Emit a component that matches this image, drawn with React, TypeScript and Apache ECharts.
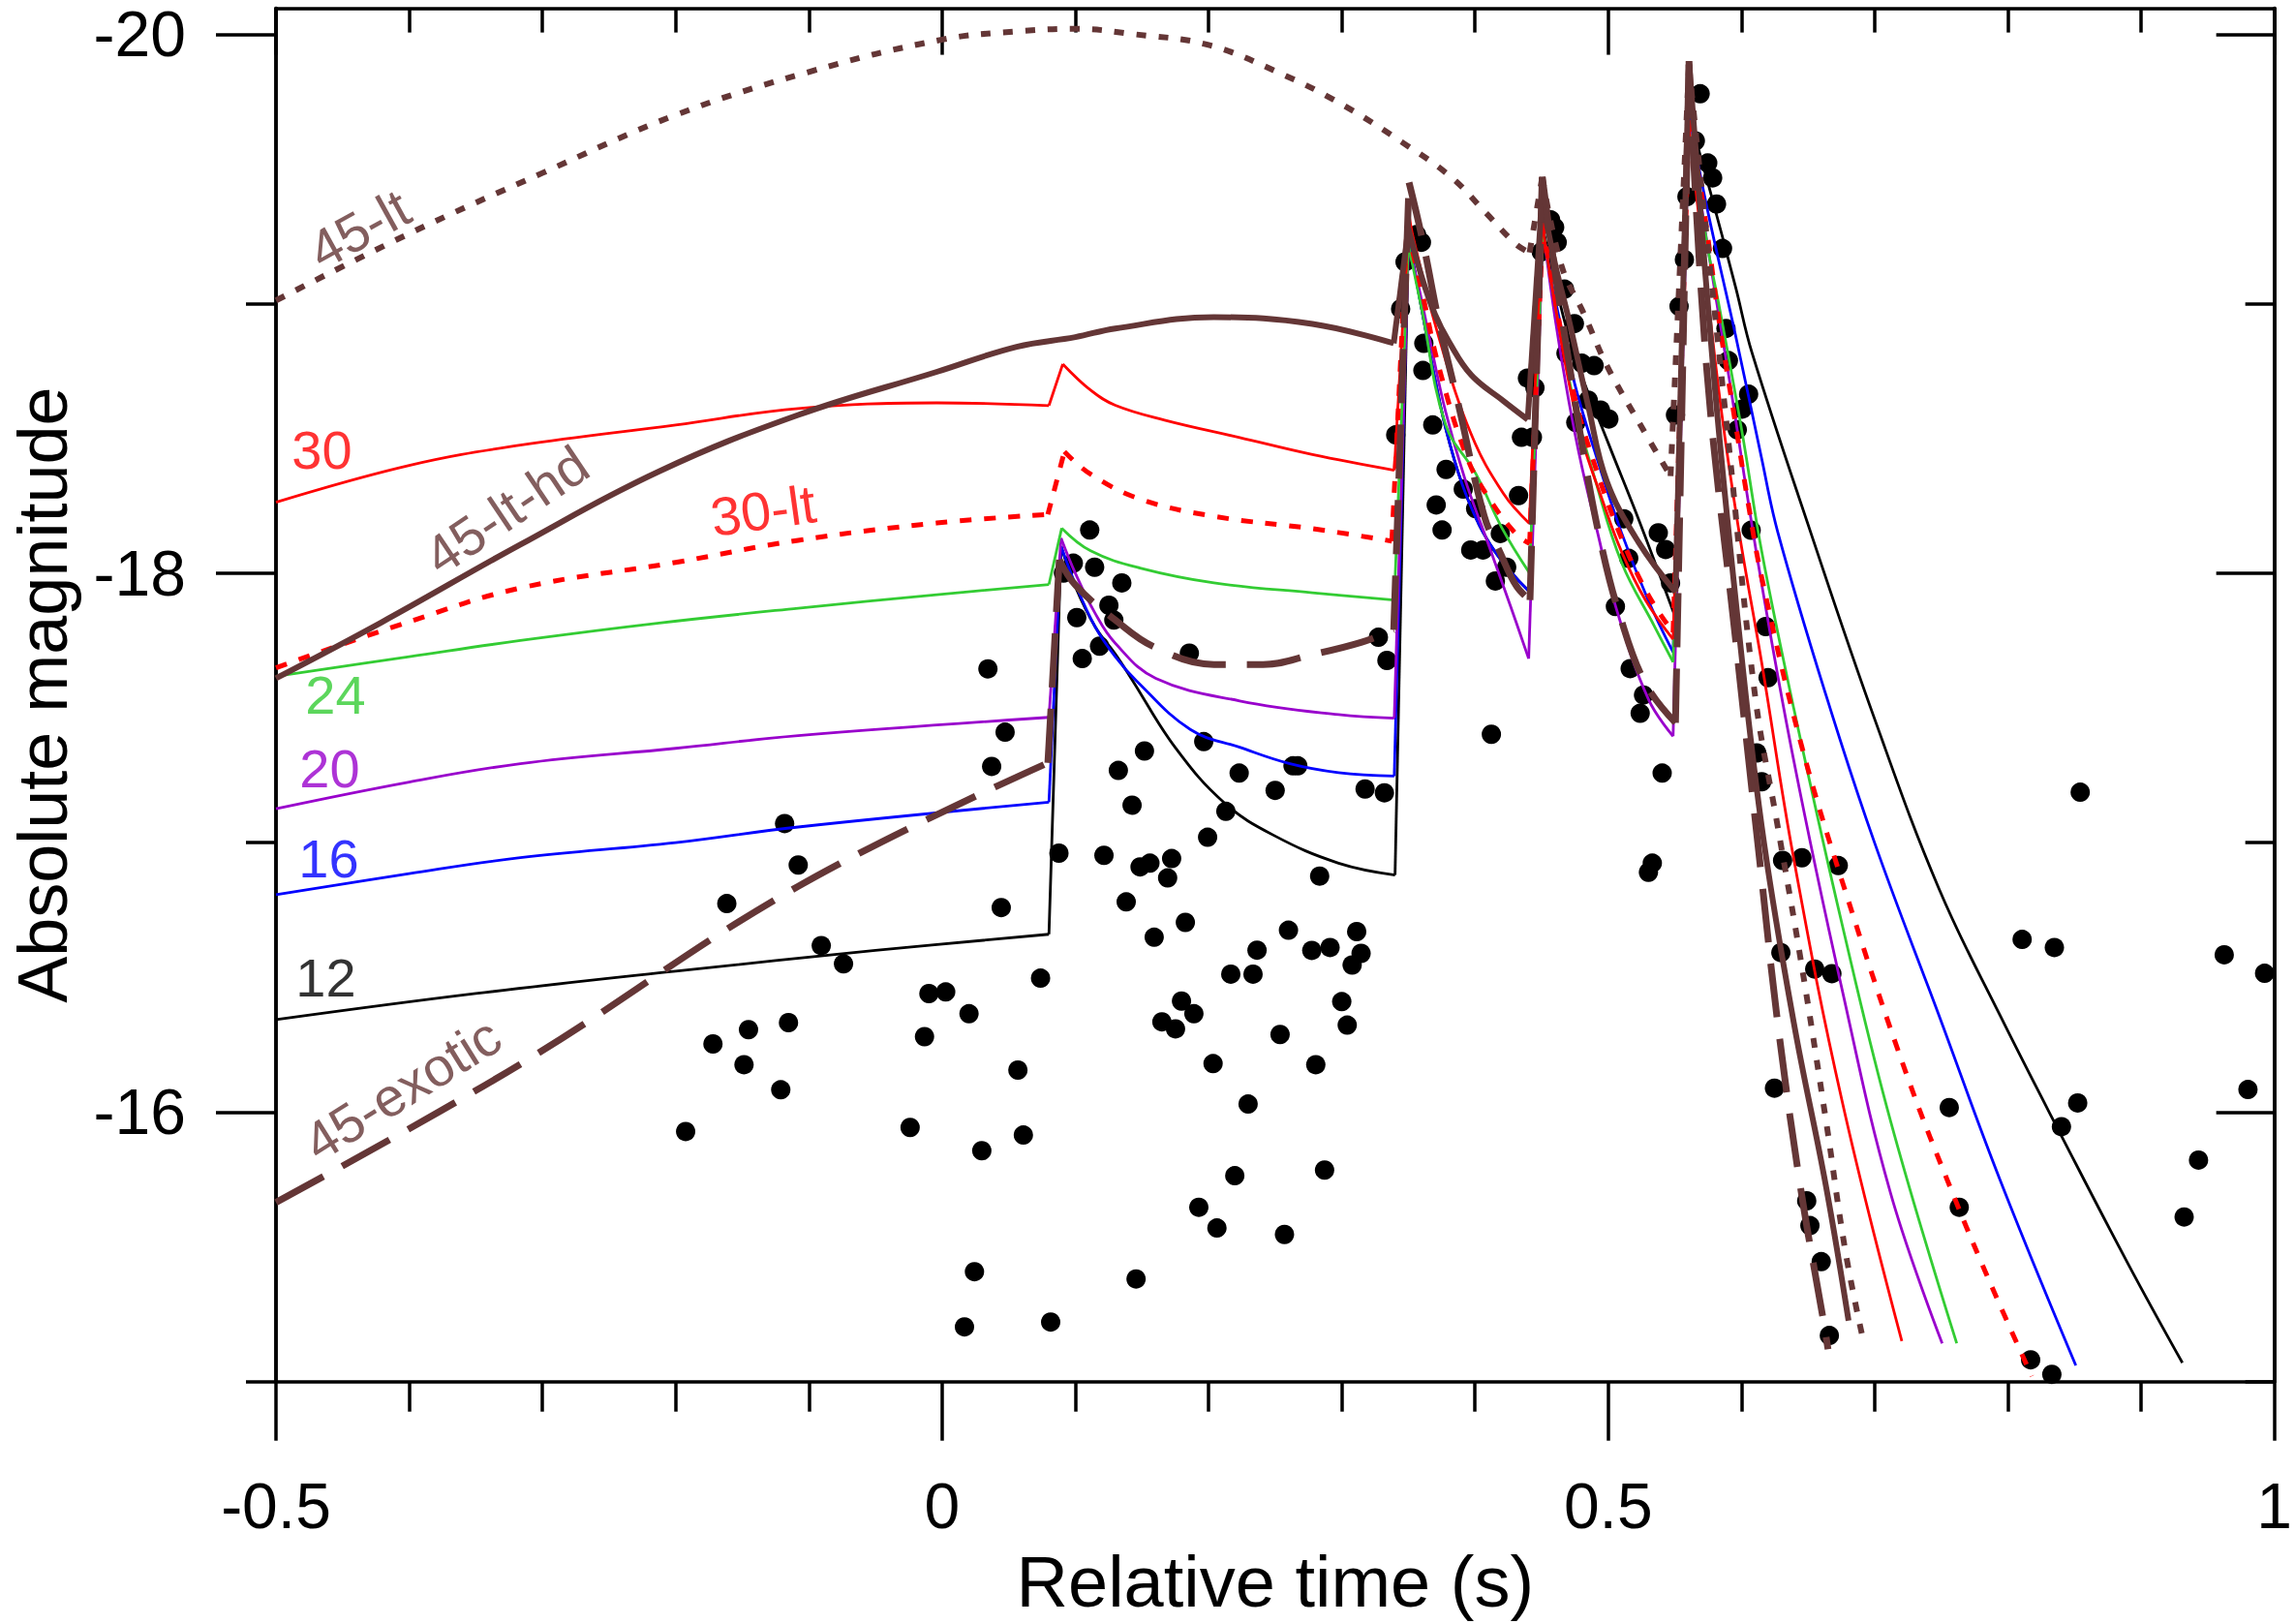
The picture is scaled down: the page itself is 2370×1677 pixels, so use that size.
import React, { useEffect, useRef } from "react";
import * as echarts from "echarts";

const FONT = "'Liberation Sans', Arial, Helvetica, sans-serif";
const BROWN = "#643636";
const RED = "#ff0000";
const GREEN = "#33cc33";
const PURPLE = "#9900cc";
const BLUE = "#0000ff";
const BLACK = "#000000";

// y axis top edge sits a little above -20
const Y_TOP = -20.096;
const Y_BOTTOM = -15;
const yMajor = [-20, -18, -16];
const yMinor = [-19, -17, -15];

// model light curves: [relative time (s), absolute magnitude]
const m12 = [
  [-0.5, -16.343], [-0.35, -16.44], [-0.2, -16.523], [-0.05, -16.6], [0.0802, -16.66],
  [0.0893, -18.1], [0.1, -17.95], [0.115, -17.8], [0.13, -17.7], [0.1419, -17.61], [0.175, -17.353],
  [0.212, -17.147], [0.249, -17.027], [0.2976, -16.924], [0.34, -16.88],
  [0.35, -19.25], [0.36, -18.98], [0.37, -18.72], [0.38, -18.5], [0.395, -18.27], [0.415, -18.08], [0.441, -17.93],
  [0.4503, -19.3], [0.46, -19.08], [0.4746, -18.81], [0.5005, -18.477], [0.5228, -18.2], [0.5505, -17.835],
  [0.5606, -19.7], [0.5764, -19.42], [0.5957, -19.06], [0.6078, -18.82], [0.6514, -18.16], [0.6999, -17.46],
  [0.7482, -16.83], [0.794, -16.36], [0.8425, -15.89], [0.891, -15.43], [0.931, -15.07],
];

const m16 = [
  [-0.5, -16.807], [-0.4, -16.885], [-0.3166, -16.944], [-0.2, -17.0], [-0.108, -17.058], [0.0802, -17.15],
  [0.0893, -18.1], [0.1, -17.96], [0.115, -17.8], [0.13, -17.69], [0.146, -17.6], [0.1863, -17.42],
  [0.2234, -17.354], [0.2604, -17.294], [0.2976, -17.26], [0.3394, -17.247],
  [0.35, -19.25], [0.36, -18.98], [0.37, -18.72], [0.38, -18.5], [0.395, -18.27], [0.415, -18.08], [0.441, -17.93],
  [0.4503, -19.3], [0.46, -19.02], [0.475, -18.7], [0.49, -18.45], [0.51, -18.15], [0.53, -17.9], [0.5487, -17.707],
  [0.5606, -19.7], [0.574, -19.36], [0.5957, -18.88], [0.615, -18.43], [0.6272, -18.154], [0.6635, -17.547],
  [0.6999, -17.0], [0.7482, -16.36], [0.794, -15.75], [0.851, -15.06],
];

const m20 = [
  [-0.5, -17.126], [-0.4, -17.225], [-0.3166, -17.293], [-0.2, -17.35], [-0.108, -17.397], [0.0802, -17.465],
  [0.0893, -18.13], [0.1, -18.0], [0.115, -17.85], [0.13, -17.74], [0.1604, -17.61], [0.2234, -17.526],
  [0.2976, -17.475], [0.3394, -17.462],
  [0.35, -19.2], [0.356, -19.1], [0.3658, -18.873], [0.3779, -18.6], [0.3924, -18.35], [0.4094, -18.116],
  [0.4263, -17.883], [0.4403, -17.683],
  [0.451, -19.28], [0.46, -18.95], [0.47, -18.65], [0.48, -18.4], [0.4917, -18.157], [0.506, -17.87],
  [0.5304, -17.53], [0.5487, -17.395],
  [0.5606, -19.68], [0.575, -19.2], [0.5909, -18.72], [0.6127, -18.033], [0.6393, -17.304], [0.6756, -16.454],
  [0.7119, -15.7], [0.7507, -15.142],
];

const m24 = [
  [-0.5, -17.617], [-0.4, -17.69], [-0.3166, -17.75], [-0.2124, -17.815], [-0.108, -17.87], [-0.004, -17.92], [0.0802, -17.958],
  [0.0898, -18.167], [0.1115, -18.083], [0.1486, -18.019], [0.204, -17.964], [0.278, -17.927], [0.3394, -17.9],
  [0.35, -19.22], [0.36, -18.98], [0.378, -18.55], [0.4005, -18.37], [0.42, -18.17], [0.441, -18.0],
  [0.451, -19.28], [0.46, -19.0], [0.475, -18.62], [0.49, -18.35], [0.51, -18.04], [0.535, -17.8], [0.5487, -17.67],
  [0.5606, -19.65], [0.575, -19.2], [0.5837, -18.98], [0.6006, -18.52], [0.6152, -18.081], [0.6393, -17.498],
  [0.6756, -16.696], [0.7119, -15.968], [0.7616, -15.142],
];

const m30 = [
  [-0.5, -18.263], [-0.4, -18.4], [-0.3166, -18.475], [-0.2, -18.55], [-0.108, -18.611], [-0.004, -18.632], [0.0802, -18.622],
  [0.0906, -18.776], [0.1115, -18.679], [0.13, -18.623], [0.167, -18.568], [0.2227, -18.504], [0.278, -18.44], [0.3394, -18.382],
  [0.3505, -19.33], [0.3537, -19.244], [0.373, -18.873], [0.3972, -18.515], [0.4214, -18.295], [0.4408, -18.185],
  [0.4503, -19.3], [0.46, -19.0], [0.47, -18.72], [0.48, -18.5], [0.495, -18.28], [0.51, -18.08], [0.528, -17.9],
  [0.5487, -17.755],
  [0.5606, -19.65], [0.572, -19.15], [0.585, -18.6], [0.5982, -18.154], [0.6152, -17.668], [0.6393, -16.939],
  [0.6756, -16.04], [0.7204, -15.15],
];

const m30lt = [
  [-0.5, -17.649], [-0.4, -17.82], [-0.3166, -17.945], [-0.2, -18.04], [-0.108, -18.122], [-0.004, -18.186], [0.0794, -18.218],
  [0.0918, -18.451], [0.1115, -18.367], [0.1486, -18.275], [0.204, -18.211], [0.278, -18.165], [0.3376, -18.119],
  [0.349, -19.28], [0.36, -19.05], [0.373, -18.763], [0.3948, -18.42], [0.4118, -18.268], [0.4311, -18.144], [0.441, -18.11],
  [0.451, -19.3], [0.46, -19.02], [0.475, -18.65], [0.49, -18.4], [0.51, -18.13], [0.53, -17.92], [0.5487, -17.78],
  [0.5606, -19.68], [0.5715, -19.36], [0.5837, -18.92], [0.5957, -18.55], [0.6054, -18.25], [0.6152, -17.984],
  [0.6442, -17.377], [0.6781, -16.818], [0.7241, -16.138], [0.7604, -15.676], [0.7894, -15.336], [0.818, -15.02],
];

const m45lt = [
  [-0.5, -19.012], [-0.4, -19.26], [-0.3, -19.485], [-0.2, -19.7], [-0.1, -19.86], [0, -19.98], [0.056, -20.01],
  [0.1, -20.02], [0.144, -20.0], [0.2, -19.96], [0.256, -19.85], [0.3, -19.74], [0.345, -19.6], [0.382, -19.47],
  [0.408, -19.338], [0.431, -19.22], [0.441, -19.19],
  [0.4505, -19.47], [0.465, -19.14], [0.482, -18.96], [0.499, -18.77], [0.523, -18.56], [0.5468, -18.36],
  [0.5606, -19.88], [0.575, -19.2], [0.59, -18.5], [0.6102, -17.547], [0.6272, -17.061], [0.6442, -16.575],
  [0.6635, -15.968], [0.6781, -15.482], [0.6914, -15.154],
];

const m45lthd = [
  [-0.5, -17.61], [-0.421, -17.817], [-0.3166, -18.106], [-0.2124, -18.378], [-0.108, -18.587], [-0.004, -18.747],
  [0.056, -18.84], [0.1, -18.876], [0.13, -18.908], [0.204, -18.95], [0.278, -18.925], [0.339, -18.853],
  [0.35, -19.28], [0.36, -19.1], [0.37, -18.96], [0.3803, -18.86], [0.3972, -18.735], [0.4214, -18.639], [0.4396, -18.57],
  [0.4503, -19.39], [0.46, -19.15], [0.47, -18.95], [0.485, -18.62], [0.499, -18.34], [0.523, -18.113], [0.5505, -17.93],
  [0.5606, -19.9], [0.5788, -18.76], [0.5957, -17.9], [0.6152, -17.061], [0.6393, -16.332], [0.6635, -15.724], [0.6804, -15.226],
];

const m45exotic = [
  [-0.5, -15.665], [-0.3166, -16.178], [-0.108, -16.838], [0.0794, -17.296],
  [0.088, -18.05], [0.1004, -17.954], [0.13, -17.826], [0.1597, -17.725], [0.204, -17.661], [0.241, -17.661],
  [0.278, -17.698], [0.315, -17.744], [0.339, -17.79],
  [0.3505, -19.45], [0.3609, -19.23], [0.373, -18.93], [0.3876, -18.625], [0.4069, -18.213], [0.419, -18.075],
  [0.4311, -17.952], [0.4413, -17.9],
  [0.4505, -19.47], [0.46, -19.12], [0.47, -18.8], [0.482, -18.43], [0.495, -18.1], [0.5086, -17.845],
  [0.528, -17.59], [0.5505, -17.445],
  [0.5606, -19.9], [0.5739, -18.761], [0.5957, -17.75], [0.6152, -16.866], [0.6272, -16.332], [0.6442, -15.725],
  [0.6611, -15.239], [0.665, -15.12],
];

// observed points
const dotsEarly = [
  [0.0344, -17.645], [0.0473, -17.41], [0.0372, -17.283], [-0.1182, -17.071], [-0.108, -16.917], [-0.1616, -16.774],
  [0.0444, -16.759], [-0.0907, -16.618], [-0.074, -16.55], [0.0739, -16.497], [-0.0099, -16.44], [0.0027, -16.446],
  [0.0202, -16.365], [-0.1153, -16.332], [-0.1453, -16.306], [-0.172, -16.253], [-0.0132, -16.28], [-0.1487, -16.176],
  [0.0569, -16.156], [-0.1211, -16.083], [-0.1925, -15.928], [-0.024, -15.943], [0.061, -15.915], [0.0298, -15.857],
  [0.0243, -15.408], [0.0168, -15.203], [0.0815, -15.221], [0.0877, -16.961], [0.1215, -16.953],
];

const dotsBump = [
  [0.1108, -18.16], [0.0911, -18.0], [0.0985, -18.037], [0.1145, -18.022], [0.1349, -17.964], [0.1011, -17.835],
  [0.1252, -17.881], [0.1289, -17.826], [0.1182, -17.729], [0.1052, -17.683], [0.1856, -17.703], [0.3275, -17.762],
  [0.3339, -17.676], [0.1519, -17.34], [0.1323, -17.268], [0.1426, -17.139], [0.1486, -16.91], [0.156, -16.924],
  [0.1723, -16.941], [0.1693, -16.869], [0.1382, -16.78], [0.1964, -17.375], [0.223, -17.258], [0.1993, -17.02],
  [0.213, -17.116], [0.25, -17.194], [0.2634, -17.285], [0.267, -17.285], [0.3175, -17.199], [0.332, -17.185],
  [0.2834, -16.876], [0.1826, -16.704], [0.1592, -16.649], [0.2364, -16.601], [0.26, -16.675], [0.3112, -16.67],
  [0.2775, -16.6], [0.2912, -16.611], [0.3145, -16.589], [0.3078, -16.546], [0.2167, -16.512], [0.2334, -16.512],
  [0.1797, -16.412], [0.189, -16.365], [0.165, -16.335], [0.1752, -16.309], [0.3, -16.41], [0.3041, -16.323],
  [0.2537, -16.288], [0.2034, -16.18], [0.2805, -16.176], [0.2297, -16.03], [0.2197, -15.764], [0.2871, -15.785],
  [0.1927, -15.647], [0.2063, -15.57], [0.257, -15.546], [0.1456, -15.381],
];

const dotsSpikes = [
  [0.3561, -19.256], [0.3475, -19.155], [0.3598, -19.228], [0.3442, -18.981], [0.3616, -18.853], [0.3609, -18.752],
  [0.3405, -18.513], [0.3683, -18.55], [0.3783, -18.385], [0.3912, -18.312], [0.3709, -18.253], [0.3753, -18.16],
  [0.4005, -18.239], [0.3968, -18.086], [0.406, -18.086], [0.419, -18.147], [0.4238, -18.022], [0.4153, -17.971],
  [0.4327, -18.288], [0.4349, -18.504], [0.4394, -18.724], [0.445, -18.688], [0.4431, -18.504], [0.4123, -17.402],
  [0.4568, -19.311], [0.4598, -19.283], [0.4617, -19.228], [0.4498, -19.192], [0.4672, -19.054], [0.4746, -18.926],
  [0.4683, -18.816], [0.4802, -18.779], [0.4894, -18.77], [0.485, -18.642], [0.4942, -18.605], [0.5005, -18.572],
  [0.4757, -18.559], [0.5117, -18.202], [0.5054, -17.876], [0.5154, -18.055], [0.5376, -18.15], [0.5431, -18.088],
  [0.5468, -17.964], [0.5165, -17.646], [0.5265, -17.548], [0.524, -17.48], [0.5405, -17.258], [0.5331, -16.924],
  [0.5302, -16.89],
  [0.569, -19.779], [0.5654, -19.604], [0.5747, -19.522], [0.5784, -19.467], [0.5591, -19.397], [0.5813, -19.37],
  [0.5858, -19.205], [0.5572, -19.164], [0.5532, -18.99], [0.5884, -18.908], [0.5902, -18.789], [0.6054, -18.664],
  [0.6006, -18.609], [0.5505, -18.587], [0.5969, -18.532],
];

const dotsTail = [
  [0.6073, -18.159], [0.6182, -17.802], [0.62, -17.612], [0.6115, -17.333], [0.6152, -17.226], [0.6309, -16.934],
  [0.6454, -16.944], [0.6727, -16.915], [0.6296, -16.592], [0.655, -16.531], [0.6679, -16.514], [0.6248, -16.089],
  [0.756, -16.017], [0.649, -15.671], [0.6514, -15.579], [0.6599, -15.445], [0.666, -15.171], [0.7635, -15.647],
  [0.8543, -17.187], [0.8107, -16.641], [0.8349, -16.611], [0.9624, -16.584], [0.9927, -16.515], [0.8524, -16.034],
  [0.8402, -15.946], [0.9802, -16.084], [0.9431, -15.822], [0.9323, -15.611], [0.8171, -15.081], [0.833, -15.027],
];

// curve annotations: text, anchor in data units, rotation (deg, anticlockwise), colour
const annotations = [
  { text: "45-lt", t: -0.4375, m: -19.277, rot: 29, color: BROWN },
  { text: "30", t: -0.4655, m: -18.456, rot: 0, color: RED },
  { text: "45-lt-hd", t: -0.327, m: -18.234, rot: 34, color: BROWN },
  { text: "30-lt", t: -0.1343, m: -18.233, rot: 8, color: RED },
  { text: "24", t: -0.4553, m: -17.547, rot: 0, color: GREEN },
  { text: "20", t: -0.4597, m: -17.274, rot: 0, color: PURPLE },
  { text: "16", t: -0.4604, m: -16.943, rot: 0, color: BLUE },
  { text: "12", t: -0.4626, m: -16.499, rot: 0, color: BLACK },
  { text: "45-exotic", t: -0.4052, m: -16.086, rot: 32, color: BROWN },
];

const frame = { color: "#000", width: 3.5 };

// split a curve at its sudden brightenings: the rises stay straight, the decays are smoothed
function curveSeries(name: string, data: number[][], color: string, width: number, type: any = "solid") {
  const pieces: { pts: number[][]; smooth: number }[] = [];
  let cur = [data[0]];
  for (let i = 1; i < data.length; i++) {
    const [t0, m0] = data[i - 1];
    const [t1, m1] = data[i];
    if ((m1 - m0) / (t1 - t0) < -8) {
      pieces.push({ pts: cur, smooth: 0.4 });
      pieces.push({ pts: [data[i - 1], data[i]], smooth: 0 });
      cur = [data[i]];
    } else {
      cur.push(data[i]);
    }
  }
  pieces.push({ pts: cur, smooth: 0.4 });
  return pieces.map((p) => ({
    name,
    type: "line",
    data: p.pts,
    smooth: p.smooth,
    showSymbol: false,
    symbol: "none",
    silent: true,
    z: 3,
    lineStyle: { color, width, type, cap: "butt", join: "round" },
  }));
}

function yAxisDef(position: string, ticks: number[], length: number, inside: boolean, withLabels: boolean) {
  return {
    type: "value",
    position,
    inverse: true,
    min: Y_TOP,
    max: Y_BOTTOM,
    axisLine: { show: true, onZero: false, lineStyle: frame },
    axisTick: { show: true, inside, length, customValues: ticks, lineStyle: frame },
    axisLabel: withLabels
      ? { show: true, customValues: ticks, fontSize: 66, lineHeight: 50, fontFamily: FONT, color: "#000", margin: 93 }
      : { show: false },
    splitLine: { show: false },
    ...(withLabels
      ? {
          name: "Absolute magnitude",
          nameLocation: "middle",
          nameGap: 205,
          nameRotate: 90,
          nameTextStyle: { fontSize: 72, fontFamily: FONT, color: "#000" },
        }
      : {}),
  };
}

export default function App() {
  const ref = useRef<HTMLDivElement>(null);

  useEffect(() => {
    if (!ref.current) return;
    const chart = echarts.init(ref.current, null, { renderer: "svg" });

    const dots = [...dotsEarly, ...dotsBump, ...dotsSpikes, ...dotsTail];

    chart.setOption({
      animation: false,
      backgroundColor: "#fff",
      grid: { left: 284.5, right: 20, top: 8.6, bottom: 250.3, containLabel: false },
      xAxis: [
        {
          type: "value",
          position: "bottom",
          min: -0.5,
          max: 1,
          interval: 0.5,
          axisLine: { show: true, onZero: false, lineStyle: frame },
          axisTick: { show: true, inside: false, length: 61, lineStyle: frame },
          minorTick: { show: true, splitNumber: 5, length: 31, lineStyle: frame },
          splitLine: { show: false },
          minorSplitLine: { show: false },
          axisLabel: { fontSize: 66, lineHeight: 66, fontFamily: FONT, color: "#000", margin: 95 },
          name: "Relative time (s)",
          nameLocation: "middle",
          nameGap: 170,
          nameTextStyle: { fontSize: 74, fontFamily: FONT, color: "#000" },
        },
        {
          type: "value",
          position: "top",
          min: -0.5,
          max: 1,
          interval: 0.5,
          axisLine: { show: true, onZero: false, lineStyle: frame },
          axisTick: { show: true, inside: true, length: 48, lineStyle: frame },
          minorTick: { show: true, splitNumber: 5, length: 25, lineStyle: frame },
          splitLine: { show: false },
          axisLabel: { show: false },
        },
      ],
      yAxis: [
        yAxisDef("left", yMajor, 62, false, true),
        yAxisDef("left", yMinor, 31, false, false),
        yAxisDef("right", yMajor, 60, true, false),
        yAxisDef("right", yMinor, 30, true, false),
      ],
      series: [
        {
          name: "observed",
          type: "scatter",
          data: dots,
          symbol: "circle",
          symbolSize: 20,
          itemStyle: { color: "#000", opacity: 1 },
          silent: true,
          z: 2,
        },
        ...curveSeries("12", m12, BLACK, 2.8),
        ...curveSeries("16", m16, BLUE, 2.8),
        ...curveSeries("20", m20, PURPLE, 2.8),
        ...curveSeries("24", m24, GREEN, 2.8),
        ...curveSeries("30", m30, RED, 2.8),
        ...curveSeries("30-lt", m30lt, RED, 5, [12, 13]),
        ...curveSeries("45-lt", m45lt, BROWN, 6, [10, 13]),
        ...curveSeries("45-lt-hd", m45lthd, BROWN, 6),
        ...curveSeries("45-exotic", m45exotic, BROWN, 7, [56, 22]),
        {
          name: "labels",
          type: "scatter",
          symbolSize: 1,
          silent: true,
          z: 5,
          itemStyle: { color: "rgba(0,0,0,0)" },
          label: {
            show: true,
            position: "inside",
            formatter: "{b}",
            fontSize: 56,
            fontFamily: FONT,
            align: "center",
            verticalAlign: "middle",
          },
          data: annotations.map((a) => ({
            name: a.text,
            value: [a.t, a.m],
            label: { rotate: a.rot, color: a.color },
          })),
        },
      ],
    });

    return () => chart.dispose();
  }, []);

  return (
    <div
      ref={ref}
      style={{ position: "absolute", left: 0, top: 0, width: 2370, height: 1677, background: "#fff" }}
    />
  );
}
